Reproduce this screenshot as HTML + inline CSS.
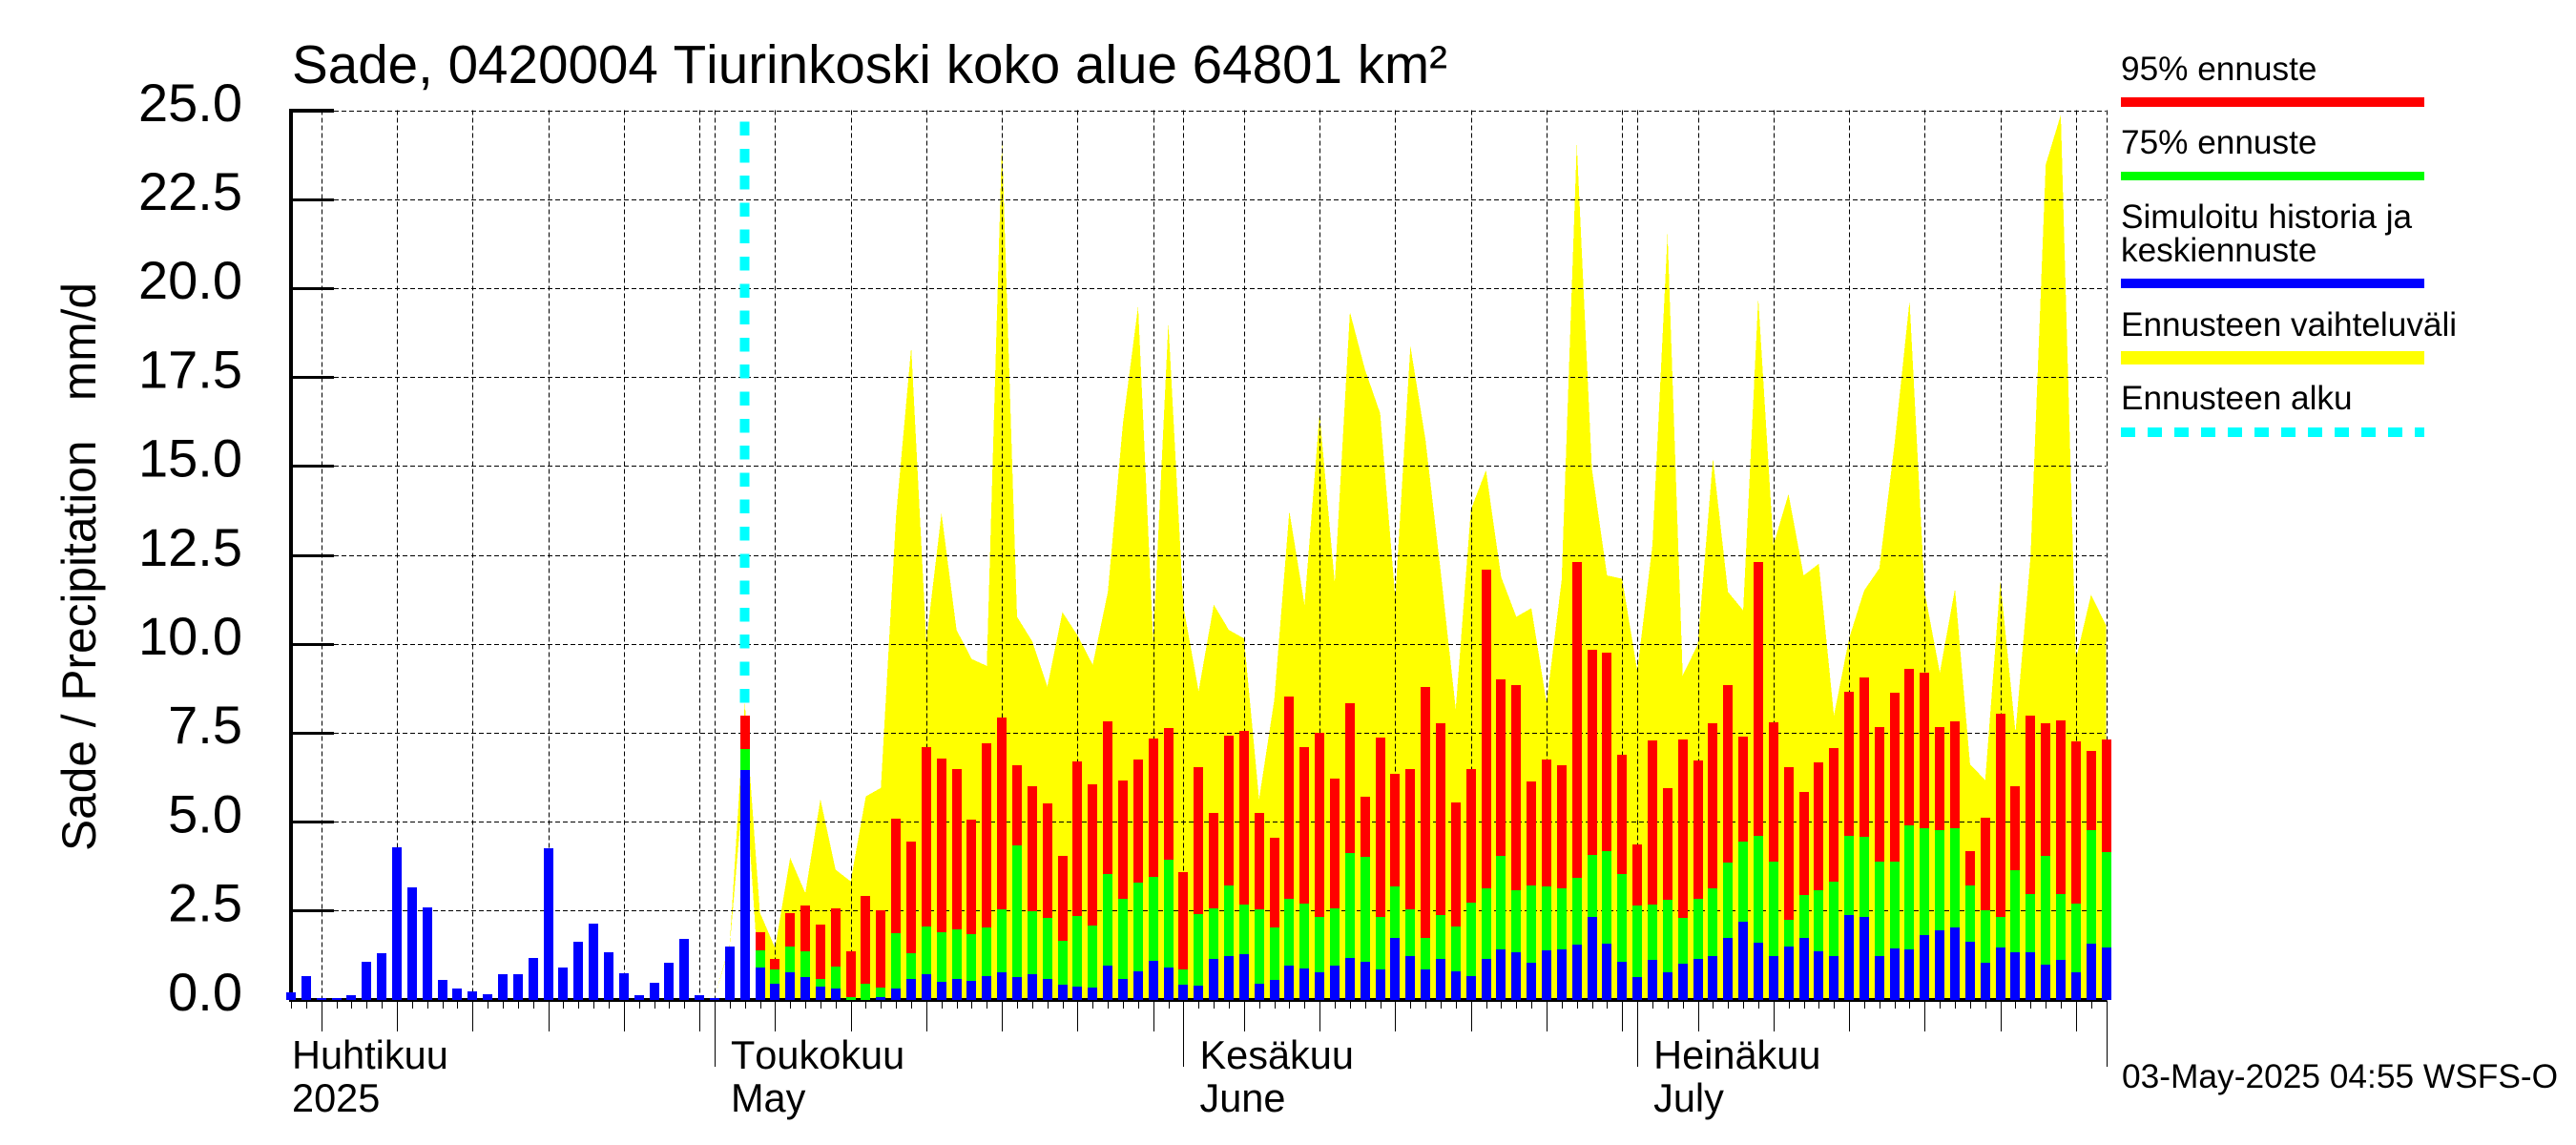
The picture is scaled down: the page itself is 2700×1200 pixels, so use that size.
<!DOCTYPE html>
<html lang="fi">
<head>
<meta charset="utf-8">
<title>Sade, 0420004 Tiurinkoski koko alue 64801 km²</title>
<style>
html,body{margin:0;padding:0;background:#fff;width:2700px;height:1200px;overflow:hidden}
svg{display:block}
text{font-family:"Liberation Sans",Arial,sans-serif;fill:#000;font-kerning:none}
</style>
</head>
<body>
<svg id="chart" xmlns="http://www.w3.org/2000/svg" width="2700" height="1200" viewBox="0 0 2700 1200">
  <rect x="0" y="0" width="2700" height="1200" fill="#fff"/>
  <g id="range-layer"></g>
  <g id="grid-layer"></g>
  <g id="axis-layer"></g>
  <g id="bar-layer"></g>
  <g id="start-layer"></g>
  <g id="label-layer"></g>

  <text x="306" y="87" font-size="56.5" textLength="1211" lengthAdjust="spacingAndGlyphs">Sade, 0420004 Tiurinkoski koko alue 64801 km²</text>
  <text transform="translate(100 892) rotate(-90)" x="0" y="0" font-size="50" textLength="596" lengthAdjust="spacingAndGlyphs" xml:space="preserve">Sade / Precipitation   mm/d</text>
  <text x="2224" y="1140" font-size="35.3">03-May-2025 04:55 WSFS-O</text>

  <g>
    <text x="2223" y="84" font-size="35.2">95% ennuste</text>
    <rect x="2223" y="102" width="318" height="10" fill="#ff0000"/>
    <text x="2223" y="161" font-size="35.2">75% ennuste</text>
    <rect x="2223" y="180" width="318" height="9" fill="#00ff00"/>
    <text x="2223" y="239" font-size="35.2">Simuloitu historia ja</text>
    <text x="2223" y="274" font-size="35.2">keskiennuste</text>
    <rect x="2223" y="292" width="318" height="10" fill="#0000ff"/>
    <text x="2223" y="352" font-size="35.2">Ennusteen vaihteluväli</text>
    <rect x="2223" y="368" width="318" height="14" fill="#ffff00"/>
    <text x="2223" y="429" font-size="35.2">Ennusteen alku</text>
    <line x1="2223" y1="453" x2="2541" y2="453" stroke="#00ffff" stroke-width="10" stroke-dasharray="15 13" shape-rendering="crispEdges"/>
  </g>
</svg>
<script>
// ---- categories ----
const firstDate = '2025-04-03';
const dayCount = 121;
const monthStarts = ['2025-04-03', '2025-05-01', '2025-06-01', '2025-07-01'];
const monthNamesFi = ['Huhtikuu', 'Toukokuu', 'Kesäkuu', 'Heinäkuu'];
const monthNamesSub = ['2025', 'May', 'June', 'July'];
const yTickValues = [0, 2.5, 5, 7.5, 10, 12.5, 15, 17.5, 20, 22.5, 25];
const yTickLabels = ['0.0', '2.5', '5.0', '7.5', '10.0', '12.5', '15.0', '17.5', '20.0', '22.5', '25.0'];
const forecastStartDate = '2025-05-03';
const rangeStartDate = '2025-05-01';

// ---- simulated history and mean forecast, mm/d, one per day from firstDate ----
const simulatedValues = [
  0.21,0.67,0.05,0.05,0.11,1.05,1.29,4.29,3.14,2.60,
  0.56,0.30,0.24,0.16,0.70,0.72,1.18,4.24,0.91,1.61,
  2.12,1.34,0.75,0.11,0.46,1.02,1.69,0.13,0.05,1.48,
  6.46,0.89,0.43,0.76,0.63,0.35,0.30,0,0,0.07,
  0.30,0.59,0.71,0.49,0.58,0.51,0.67,0.76,0.63,0.72,
  0.59,0.41,0.35,0.33,0.94,0.59,0.79,1.09,0.89,0.41,
  0.38,1.15,1.22,1.27,0.43,0.54,0.94,0.87,0.76,0.94,
  1.18,1.05,0.84,1.73,1.22,0.84,1.15,0.79,0.67,1.13,
  1.40,1.32,1.02,1.38,1.40,1.53,2.32,1.56,1.05,0.64,
  1.10,0.76,1.00,1.15,1.22,1.73,2.19,1.60,1.22,1.48,
  1.74,1.35,1.23,2.37,2.32,1.22,1.43,1.40,1.81,1.94,
  2.02,1.61,1.02,1.45,1.32,1.32,0.97,1.10,0.76,1.56,
  1.45
];
// ---- 75% forecast, mm/d, from forecastStartDate ----
const p75Values = [
  7.03,1.38,0.84,1.48,1.35,0.59,0.92,0.07,0.43,0.33,
  1.86,1.30,2.04,1.89,1.96,1.83,2.02,2.53,4.33,2.48,
  2.29,1.64,2.34,2.07,3.52,2.83,3.29,3.44,3.93,0.84,
  2.40,2.55,3.21,2.66,2.53,2.02,2.83,2.70,2.32,2.55,
  4.11,4.01,2.32,3.17,2.53,1.73,2.37,2.04,2.71,3.13,
  4.03,3.06,3.21,3.17,3.13,3.42,4.06,4.16,3.52,2.63,
  2.66,2.80,2.29,2.83,3.13,3.85,4.44,4.61,3.87,2.24,
  2.93,3.06,3.31,4.61,4.57,3.87,3.87,4.90,4.82,4.75,
  4.82,3.21,2.50,2.32,3.63,2.96,4.03,2.96,2.70,4.75,
  4.14
];
// ---- 95% forecast, mm/d, from forecastStartDate ----
const p95Values = [
  7.97,1.89,1.13,2.42,2.63,2.11,2.55,1.35,2.91,2.50,
  5.08,4.44,7.09,6.78,6.48,5.05,7.20,7.93,6.58,5.99,
  5.51,4.03,6.69,6.05,7.83,6.15,6.74,7.34,7.63,3.57,
  6.53,5.25,7.42,7.55,5.25,4.54,8.52,7.09,7.50,6.22,
  8.34,5.71,7.37,6.35,6.48,8.78,7.76,5.54,6.48,12.09,
  9.00,8.85,6.13,6.74,6.58,12.29,9.84,9.74,6.88,4.36,
  7.29,5.94,7.32,6.73,7.76,8.85,7.38,12.29,7.80,6.53,
  5.84,6.66,7.07,8.65,9.06,7.66,8.63,9.29,9.19,7.66,
  7.83,4.16,5.12,8.04,5.99,7.98,7.76,7.85,7.25,6.99,
  7.32
];
// ---- forecast range upper bound, mm/d, from rangeStartDate ----
const rangeHighValues = [
  0.05,1.54,8.34,2.44,1.45,3.98,2.99,5.63,3.65,3.32,
  5.71,5.95,13.6,18.34,10.07,13.67,10.39,9.57,9.38,24.13,
  10.76,10.07,8.80,10.89,10.23,9.41,11.46,16.2,19.49,10.07,
  19.03,11.05,8.67,11.10,10.39,10.15,5.63,8.42,13.73,11.10,
  16.48,11.71,19.33,17.71,16.48,11.30,18.37,15.74,12.04,8.17,
  13.77,14.88,11.88,10.76,11.00,8.34,11.79,24.05,14.92,11.92,
  11.83,9.24,12.78,21.53,9.11,9.98,15.21,11.46,10.94,19.72,
  12.78,14.21,11.92,12.25,7.98,10.15,11.50,12.12,15.58,19.65,
  11.46,9.19,11.55,6.61,6.17,11.76,7.52,12.45,23.47,24.87,
  9.57,11.38,10.51
];
// ---- forecast range lower bound, mm/d, from rangeStartDate ----
const rangeLowValues = [
  0.05,1.48,6.46,0.05,0.02,0.02,0.02,0.02,0.02,0.02,
  0.02,0.02,0.02,0.02,0.02,0.02,0.02,0.02,0.02,0.02,
  0.02,0.02,0.02,0.02,0.02,0.02,0.02,0.02,0.02,0.02,
  0.02,0.02,0.02,0.02,0.02,0.02,0.02,0.02,0.02,0.02,
  0.02,0.02,0.02,0.02,0.02,0.02,0.02,0.02,0.02,0.02,
  0.02,0.02,0.02,0.02,0.02,0.02,0.02,0.02,0.02,0.02,
  0.02,0.02,0.02,0.02,0.02,0.02,0.02,0.02,0.02,0.02,
  0.02,0.02,0.02,0.02,0.02,0.02,0.02,0.02,0.02,0.02,
  0.02,0.02,0.02,0.02,0.02,0.02,0.02,0.02,0.02,0.02,
  0.02,0.02,0.02
];

// ---- axis functions ----
const NS = 'http://www.w3.org/2000/svg';
const xOf = i => 305 + 15.855 * i;
const yOf = v => 1047.5 - 37.28 * v;
const dayMs = 86400000;
const dateIndex = s => Math.round((Date.parse(s + 'T00:00:00Z') - Date.parse(firstDate + 'T00:00:00Z')) / dayMs);
const dayOfMonth = i => new Date(Date.parse(firstDate + 'T00:00:00Z') + i * dayMs).getUTCDate();

function make(tag, attrs, parent) {
  const el = document.createElementNS(NS, tag);
  for (const k in attrs) el.setAttribute(k, attrs[k]);
  parent.appendChild(el);
  return el;
}

const rangeLayer = document.getElementById('range-layer');
const gridLayer = document.getElementById('grid-layer');
const axisLayer = document.getElementById('axis-layer');
const barLayer = document.getElementById('bar-layer');
const startLayer = document.getElementById('start-layer');
const labelLayer = document.getElementById('label-layer');

const plotLeft = xOf(0);
const plotRight = xOf(dayCount - 1);
const plotTop = yOf(25);
const plotBottom = yOf(0);

// ---- forecast range ----
const rangeOffset = dateIndex(rangeStartDate);
const upperPts = rangeHighValues.map((v, k) => xOf(rangeOffset + k).toFixed(1) + ',' + yOf(v).toFixed(1));
const lowerPts = rangeLowValues.map((v, k) => xOf(rangeOffset + k).toFixed(1) + ',' + yOf(v).toFixed(1)).reverse();
const rangeShape = make('polygon', {points: upperPts.concat(lowerPts).join(' '), fill: '#ffff00', 'shape-rendering': 'crispEdges'}, rangeLayer);



// ---- horizontal gridlines and y ticks ----
yTickValues.forEach((v, k) => {
  const py = Math.round(yOf(v)) + 0.5;
  if (v > 0) {
    const g = make('line', {x1: 350, y1: py, x2: plotRight, y2: py, stroke: '#000', 'stroke-width': 1, 'stroke-dasharray': '5 3', 'shape-rendering': 'crispEdges'}, gridLayer);
    
    
    const t = make('rect', {x: plotLeft, y: Math.round(yOf(v)) - (v === 25 ? 2 : 1), width: 350 - plotLeft, height: v === 25 ? 4 : 3, fill: '#000'}, axisLayer);
    
    
  }
  const lab = make('text', {x: 254, y: yOf(v) + 11.3, 'font-size': 56, 'text-anchor': 'end'}, labelLayer);
  lab.textContent = yTickLabels[k];
  
  
});

// ---- vertical gridlines and x ticks ----
const monthStartIdx = monthStarts.map(dateIndex);
for (let i = 0; i < dayCount; i++) {
  const d = dayOfMonth(i);
  const px = Math.round(xOf(i)) + 0.5;
  const isMonth = d === 1;
  const isMajor = isMonth || d % 5 === 0;
  const tickEnd = isMonth ? 1118 : isMajor ? 1081 : 1057;
  const tick = make('line', {x1: px, y1: 1049, x2: px, y2: tickEnd, stroke: '#000', 'stroke-width': 1, 'shape-rendering': 'crispEdges'}, axisLayer);
  
  
  if (isMajor) {
    const g = make('line', {x1: px, y1: plotTop, x2: px, y2: plotBottom, stroke: '#000', 'stroke-width': 1, 'stroke-dasharray': '5 3', 'shape-rendering': 'crispEdges'}, gridLayer);
    
    
  }
}

// ---- axis lines ----
const yAxisLine = make('rect', {x: 303, y: 114, width: 4, height: 936, fill: '#000'}, axisLayer);


const xAxisLine = make('rect', {x: 303, y: 1046, width: plotRight - 303 + 1, height: 4, fill: '#000'}, axisLayer);



// ---- stacked bars ----
const forecastOffset = dateIndex(forecastStartDate);
function drawBar(i, v, color, name) {
  if (v === null || v === undefined || v <= 0) return;
  const left = Math.round(xOf(i) - 5);
  const top = Math.round(yOf(v));
  const bar = make('rect', {x: left, y: top, width: 10, height: Math.round(plotBottom) - top, fill: color}, barLayer);
  
  
}
p95Values.forEach((v, k) => drawBar(forecastOffset + k, v, '#ff0000', 'bar-95-forecast'));
p75Values.forEach((v, k) => drawBar(forecastOffset + k, v, '#00ff00', 'bar-75-forecast'));
simulatedValues.forEach((v, i) => drawBar(i, v, '#0000ff', 'bar-simulated'));

// ---- forecast start marker ----
const startX = xOf(forecastOffset);
const startLine = make('line', {x1: startX, y1: 127.5, x2: startX, y2: 736.5, stroke: '#00ffff', 'stroke-width': 10, 'stroke-dasharray': '14.5 13.8', 'shape-rendering': 'crispEdges'}, startLayer);



// ---- month labels ----
monthNamesFi.forEach((name, k) => {
  const idx = monthStartIdx[k];
  const lx = k === 0 ? xOf(idx) + 1 : xOf(idx) + 17;
  const top = make('text', {x: lx, y: 1120, 'font-size': 41.5}, labelLayer);
  top.textContent = name;
  
  
  const sub = make('text', {x: lx, y: 1165, 'font-size': 41.5}, labelLayer);
  sub.textContent = monthNamesSub[k];
  
  
});
</script>
</body>
</html>
